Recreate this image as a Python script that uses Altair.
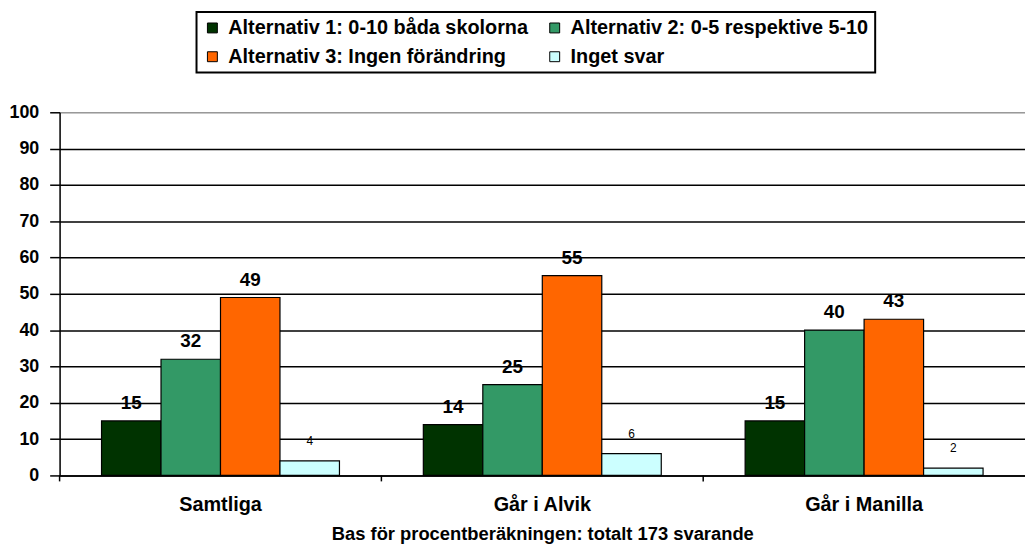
import altair as alt
import pandas as pd

categories = ["Samtliga", "Går i Alvik", "Går i Manilla"]
series = [
    "Alternativ 1: 0-10 båda skolorna",
    "Alternativ 2: 0-5 respektive 5-10",
    "Alternativ 3: Ingen förändring",
    "Inget svar",
]
alt1 = [15, 14, 15]
alt2 = [32, 25, 40]
alt3 = [49, 55, 43]
inget = [4, 6, 2]
colors = ["#003300", "#339966", "#FF6600", "#CCFFFF"]

rows = []
for s, vals in zip(series, [alt1, alt2, alt3, inget]):
    for c, v in zip(categories, vals):
        rows.append({"cat": c, "serie": s, "value": v})
df = pd.DataFrame(rows)
cat_df = pd.DataFrame({"cat": categories})

FONT = "Liberation Sans"
W, H = 973, 366
X_TITLE = "Bas för procentberäkningen: totalt 173 svarande"


def x_enc(**kw):
    return alt.X(
        "cat:N",
        sort=categories,
        scale=alt.Scale(paddingInner=0, paddingOuter=0),
        axis=alt.Axis(title=X_TITLE, labelAngle=0, ticks=False, grid=False),
        **kw,
    )


xoff = alt.XOffset(
    "serie:N", sort=series,
    scale=alt.Scale(paddingOuter=0.705, paddingInner=0),
)
y_enc = alt.Y(
    "value:Q",
    scale=alt.Scale(domain=[0, 100], nice=False),
    axis=alt.Axis(title=None, values=list(range(0, 101, 10)), labelOverlap=False, grid=True),
)

bars = alt.Chart(df).mark_bar(stroke="black", strokeWidth=1.2).encode(
    x=x_enc(),
    xOffset=xoff,
    y=y_enc,
    color=alt.Color(
        "serie:N", sort=series,
        scale=alt.Scale(domain=series, range=colors),
        legend=alt.Legend(
            title=None, orient="none", legendX=138, legendY=-101,
            direction="horizontal", columns=2,
            symbolType="square", symbolSize=100, symbolStrokeColor="black",
            symbolStrokeWidth=1, labelFont=FONT, labelFontSize=20,
            labelFontWeight="bold", labelColor="black", labelLimit=500,
            labelOffset=6, columnPadding=16, rowPadding=9, padding=6,
            strokeColor="black", fillColor="white",
        ),
    ),
)

big = alt.Chart(df).transform_filter(alt.datum.serie != "Inget svar").mark_text(
    font=FONT, fontSize=19, fontWeight="bold", color="black", dy=-18, baseline="middle"
).encode(x=x_enc(), xOffset=xoff, y=y_enc, text="value:Q")

small = alt.Chart(df).transform_filter(alt.datum.serie == "Inget svar").mark_text(
    font=FONT, fontSize=12, color="black", dy=-20, baseline="middle"
).encode(x=x_enc(), xOffset=xoff, y=y_enc, text="value:Q")

ticks = alt.Chart(cat_df).mark_rule(color="black", strokeWidth=1.5).encode(
    x=x_enc(bandPosition=0),
    y=alt.value(H),
    y2=alt.value(H + 6),
)

chart = (
    alt.layer(bars, big, small, ticks)
    .properties(
        width=W, height=H,
        autosize=alt.AutoSizeParams(type="none"),
        padding={"left": 52, "top": 103, "right": 0, "bottom": 67},
    )
    .configure_view(stroke=None)
    .configure(background="white")
    .configure_legend(strokeWidth=2)
    .configure_axisX(
        titleFont=FONT, titleFontSize=18.5, titleFontWeight="bold", titleColor="black",
        titlePadding=11,
        labelFont=FONT, labelFontSize=20, labelFontWeight="bold", labelColor="black",
        labelPadding=19, domainColor="black", domainWidth=1.5,
    )
    .configure_axisY(
        labelFont=FONT, labelFontSize=18, labelFontWeight="bold", labelColor="black",
        labelPadding=11, tickSize=10, tickColor="black", tickWidth=1.5,
        domainColor="black", domainWidth=1.5, gridWidth=1.5,
        gridColor={"condition": {"test": "datum.value === 100", "value": "#999999"}, "value": "black"},
    )
)

chart.save("out.html", embed_options={"renderer": "svg", "actions": False})
